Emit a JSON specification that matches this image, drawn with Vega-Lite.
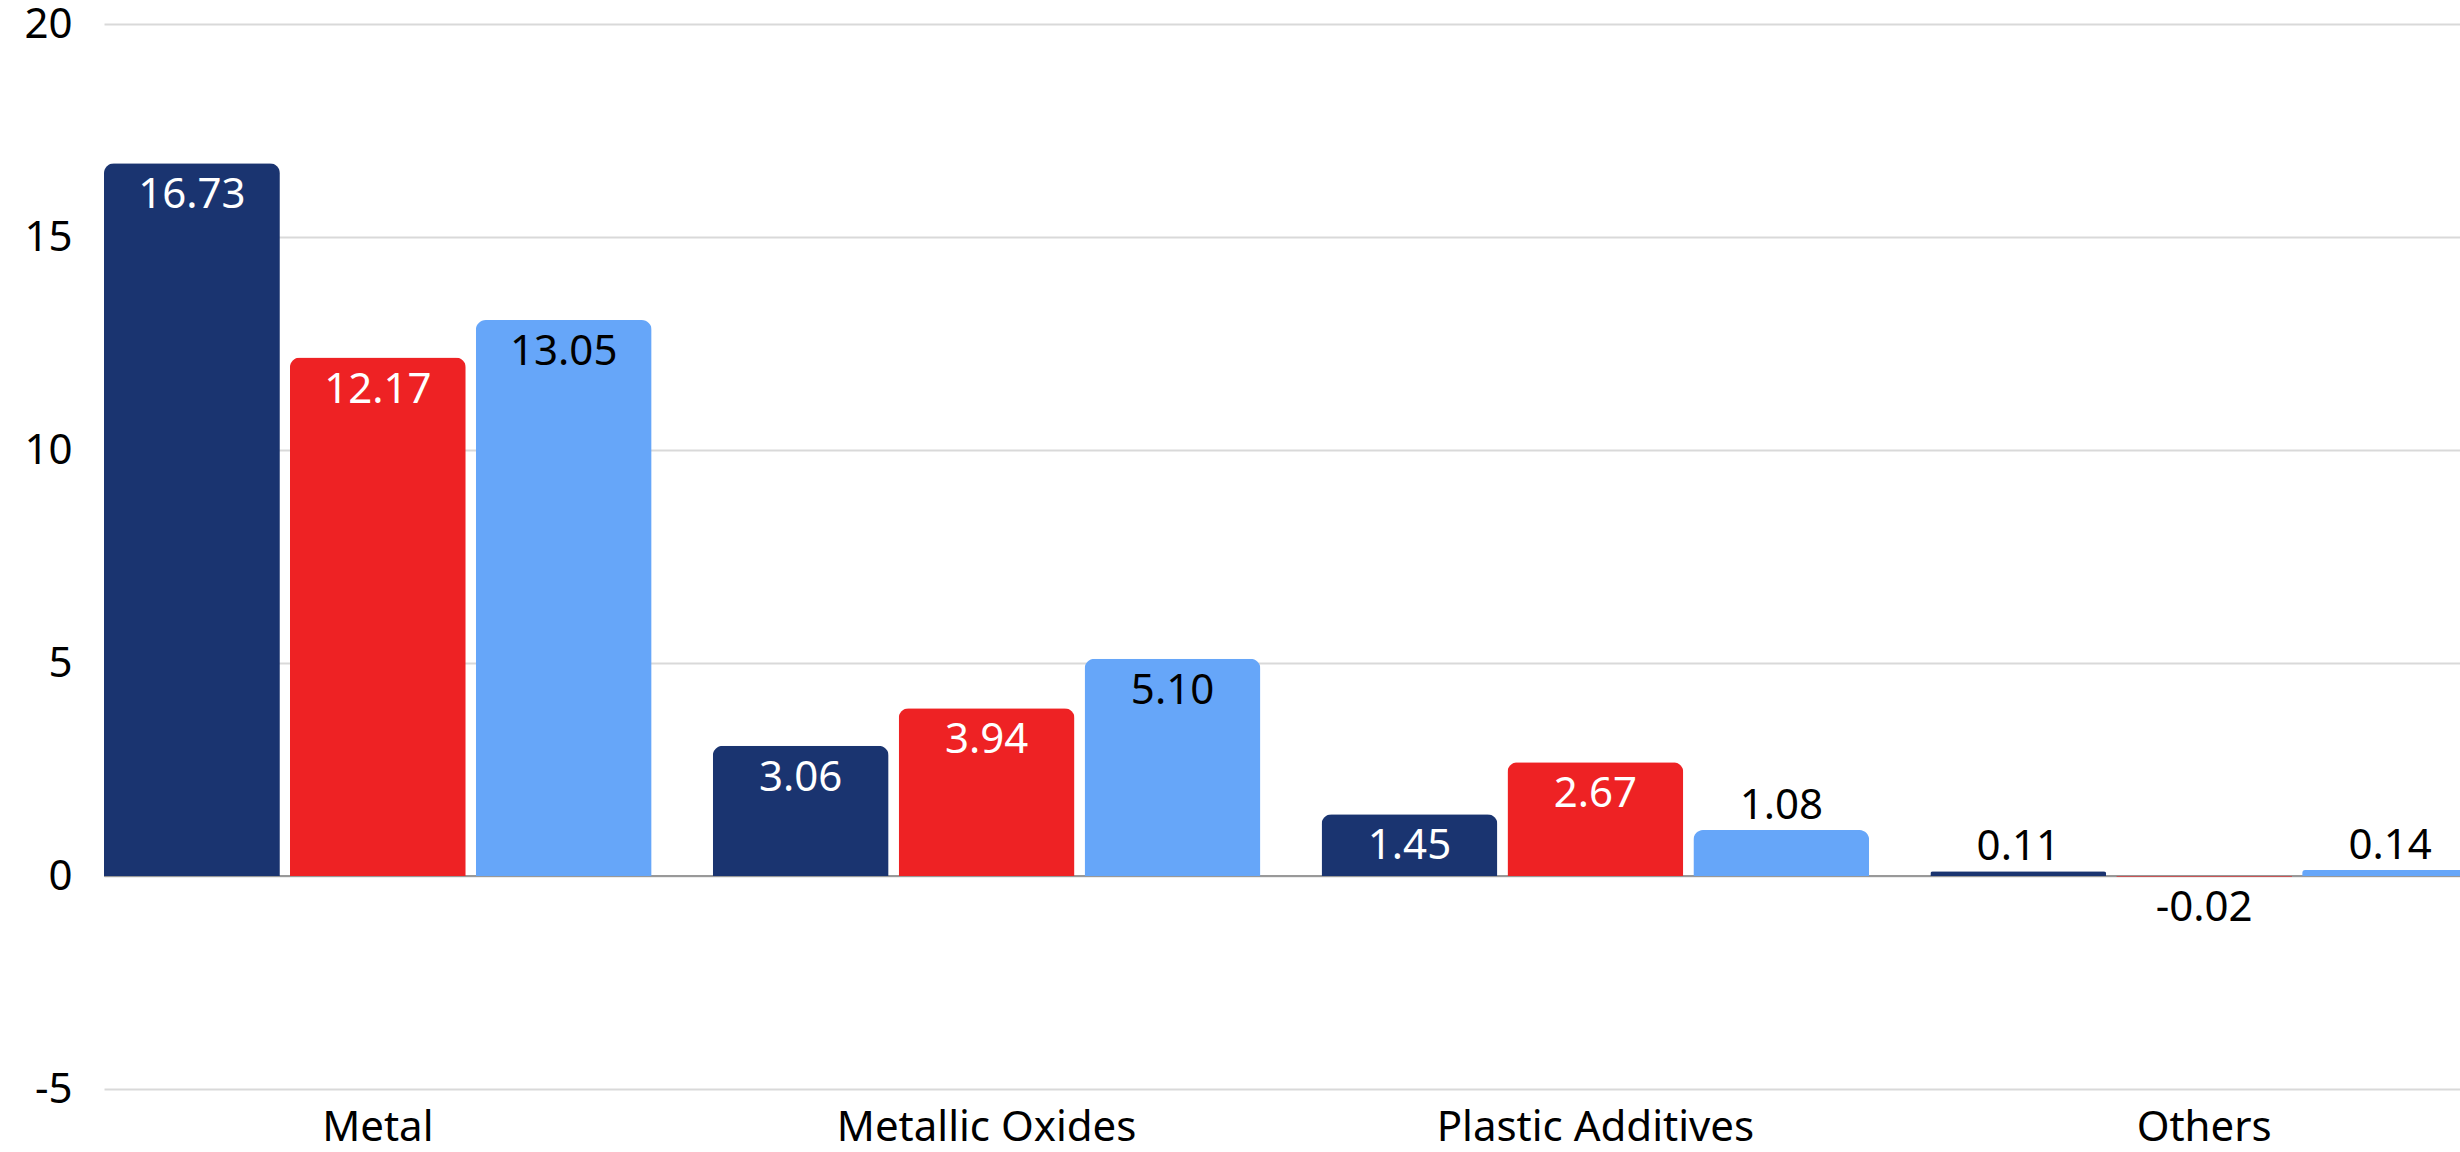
{
  "$schema": "https://vega.github.io/schema/vega-lite/v6.json",
  "width": 2356,
  "height": 1065,
  "autosize": {"type": "none"},
  "padding": {"left": 104, "top": 24, "right": 0, "bottom": 63},
  "background": "white",
  "config": {
    "view": {"stroke": null},
    "font": "Noto Sans",
    "locale": {"number": {"decimal": ".", "thousands": ",", "grouping": [3], "currency": ["$", ""], "minus": "-"}}
  },
  "data": {
    "values": [
      {"category": "Metal", "series": "Series 1", "value": 16.73},
      {"category": "Metal", "series": "Series 2", "value": 12.17},
      {"category": "Metal", "series": "Series 3", "value": 13.05},
      {"category": "Metallic Oxides", "series": "Series 1", "value": 3.06},
      {"category": "Metallic Oxides", "series": "Series 2", "value": 3.94},
      {"category": "Metallic Oxides", "series": "Series 3", "value": 5.10},
      {"category": "Plastic Additives", "series": "Series 1", "value": 1.45},
      {"category": "Plastic Additives", "series": "Series 2", "value": 2.67},
      {"category": "Plastic Additives", "series": "Series 3", "value": 1.08},
      {"category": "Others", "series": "Series 1", "value": 0.11},
      {"category": "Others", "series": "Series 2", "value": -0.02},
      {"category": "Others", "series": "Series 3", "value": 0.14}
    ]
  },
  "encoding": {
    "x": {
      "field": "category",
      "type": "nominal",
      "sort": ["Metal", "Metallic Oxides", "Plastic Additives", "Others"],
      "scale": {"range": [0, 2374], "paddingInner": 0.1004, "paddingOuter": 0},
      "axis": {
        "title": null,
        "labelAngle": 0,
        "labelFontSize": 42,
        "labelColor": "#000000",
        "labelPadding": 18,
        "labelLimit": 0,
        "domain": false,
        "ticks": false,
        "grid": false
      }
    },
    "xOffset": {
      "field": "series",
      "type": "nominal",
      "scale": {"paddingInner": 0.054, "paddingOuter": 0}
    },
    "y": {
      "field": "value",
      "type": "quantitative",
      "scale": {"domain": [-5, 20], "nice": false, "zero": false},
      "axis": {
        "title": null,
        "values": [-5, 0, 5, 10, 15, 20],
        "labelFontSize": 42,
        "labelColor": "#000000",
        "labelPadding": 32,
        "domain": false,
        "ticks": false,
        "gridColor": "#d9d9d9",
        "gridWidth": 2
      }
    }
  },
  "layer": [
    {
      "mark": {"type": "rule", "color": "#999999", "strokeWidth": 2},
      "encoding": {"x": null, "xOffset": null, "y": {"datum": 0}}
    },
    {
      "mark": {"type": "bar", "cornerRadiusEnd": 10},
      "encoding": {
        "color": {
          "field": "series",
          "type": "nominal",
          "scale": {"domain": ["Series 1", "Series 2", "Series 3"], "range": ["#1a3470", "#ee2224", "#66a6f9"]},
          "legend": null
        }
      }
    },
    {
      "transform": [{"filter": "datum.value >= 1.3"}],
      "mark": {"type": "text", "baseline": "middle", "dy": 32, "fontSize": 42},
      "encoding": {
        "text": {"field": "value", "type": "quantitative", "format": ".2f"},
        "color": {"condition": {"test": "datum.series === 'Series 3'", "value": "#000000"}, "value": "#ffffff"}
      }
    },
    {
      "transform": [{"filter": "datum.value >= 0 && datum.value < 1.3"}],
      "mark": {"type": "text", "baseline": "middle", "dy": -24, "fontSize": 42, "color": "#000000"},
      "encoding": {
        "text": {"field": "value", "type": "quantitative", "format": ".2f"}
      }
    },
    {
      "transform": [{"filter": "datum.value < 0"}],
      "mark": {"type": "text", "baseline": "middle", "dy": 31, "fontSize": 42, "color": "#000000"},
      "encoding": {
        "text": {"field": "value", "type": "quantitative", "format": ".2f"}
      }
    }
  ]
}
